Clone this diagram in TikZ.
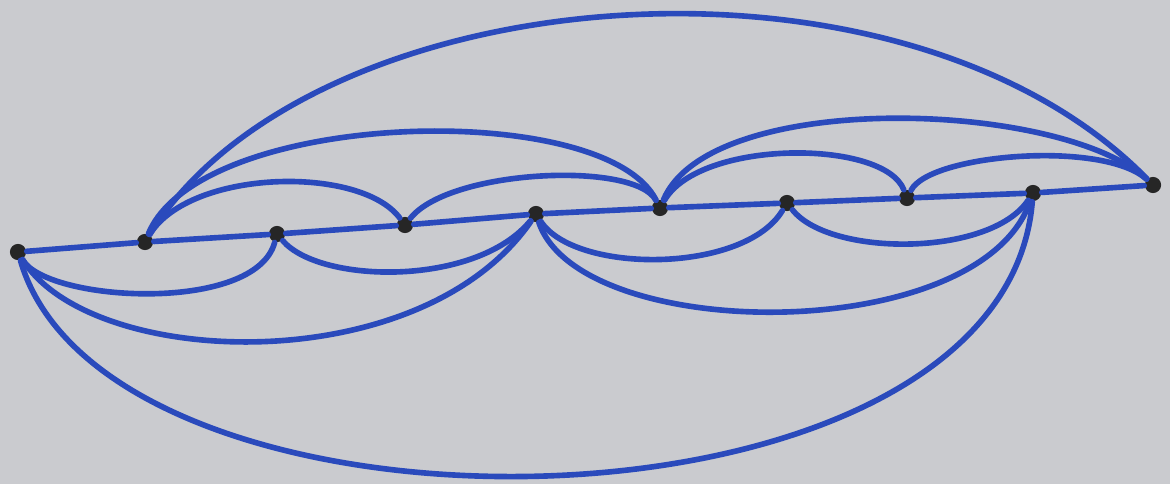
\documentclass[tikz,border=0pt]{standalone}
\usepackage{tikz}
\usetikzlibrary{calc}
\definecolor{paper}{RGB}{202,203,207}
\definecolor{ink}{RGB}{42,74,188}

\begin{document}
\begin{tikzpicture}[
            edge/.style={draw=ink, line width=1.6pt, line cap=round},
            vdot/.style={circle, fill=black!85, inner sep=0pt, minimum size=4.6pt}
        ]

        % =============== paper ===============
        \fill[paper] (0,0) rectangle (11.70,4.84);
        \useasboundingbox (0,0) rectangle (11.70,4.84);

        % =============== vertices ===============
        \node[vdot] (v1)  at (0.18,2.32)  {};
        \node[vdot] (v2)  at (1.45,2.42)  {};
        \node[vdot] (v3)  at (2.77,2.50)  {};
        \node[vdot] (v4)  at (4.05,2.59)  {};
        \node[vdot] (v5)  at (5.36,2.70)  {};
        \node[vdot] (v6)  at (6.60,2.76)  {};
        \node[vdot] (v7)  at (7.87,2.81)  {};
        \node[vdot] (v8)  at (9.07,2.86)  {};
        \node[vdot] (v9)  at (10.33,2.91) {};
        \node[vdot] (v10) at (11.53,2.99) {};

        % =============== spine ===============
        \draw[edge] (v1) -- (v2) -- (v3) -- (v4) -- (v5) -- (v6) -- (v7)
            -- (v8) -- (v9) -- (v10);

        % =============== arcs above ===============
        \draw[edge] (v2) .. controls +(1.65,2.65) and +(-2.53,2.58) .. (v10);
        \draw[edge] (v2) .. controls +(0.55,1.33) and +(-0.55,1.10) .. (v6);
        \draw[edge] (v2) .. controls +(0.45,0.73) and +(-0.45,0.60) .. (v4);
        \draw[edge] (v4) .. controls +(0.45,0.56) and +(-0.25,0.47) .. (v6);
        \draw[edge] (v6) .. controls +(0.50,1.19) and +(-0.93,0.85) .. (v10);
        \draw[edge] (v6) .. controls +(0.40,0.69) and +(-0.23,0.59) .. (v8);
        \draw[edge] (v8) .. controls +(0.23,0.44) and +(-0.50,0.45) .. (v10);

        % =============== arcs below ===============
        \draw[edge] (v1) .. controls +(0.29,-0.50) and +(-0.22,-0.80) .. (v3);
        \draw[edge] (v3) .. controls +(0.43,-0.50) and +(-0.60,-0.73) .. (v5);
        \draw[edge] (v1) .. controls +(0.72,-1.17) and +(-1.16,-1.68) .. (v5);
        \draw[edge] (v5) .. controls +(0.39,-0.60) and +(-0.43,-0.71) .. (v7);
        \draw[edge] (v7) .. controls +(0.43,-0.54) and +(-0.43,-0.64) .. (v9);
        \draw[edge] (v5) .. controls +(0.44,-1.30) and +(-0.53,-1.54) .. (v9);
        \draw[edge] (v1) .. controls +(0.90,-3.10) and +(-0.30,-3.60) .. (v9);

    \end{tikzpicture}
\end{document}
